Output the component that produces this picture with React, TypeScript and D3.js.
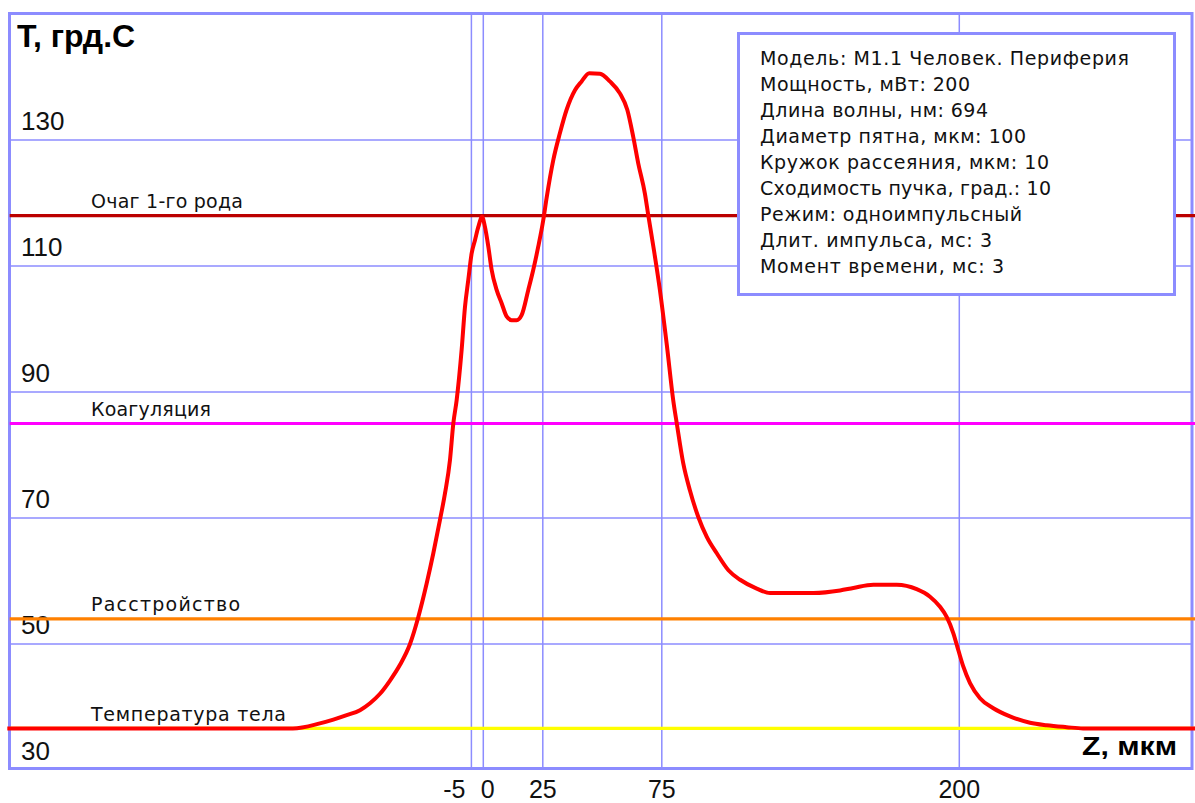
import React from "react";
import * as d3 from "d3";

const W = 1195;
const H = 803;

// Temperature profile along the beam axis: depth Z (мкм) and temperature T (°C)
const depthZ = [
  -200, -80, -68.7, -63.0, -57.4, -51.8, -47.6, -43.4, -39.2, -35.0, -30.8, -27.3,
  -23.8, -21.0, -18.2, -16.1, -14.0, -12.6, -11.2, -9.1, -7.7, -6.3, -4.9, -3.5,
  -2.1, -0.5, 0.7, 2.1, 3.5, 5.6, 7.7, 9.8, 11.9, 14.0, 16.1, 18.9, 21.0, 23.1,
  25.2, 26.6, 29.4, 32.2, 35.0, 38.5, 41.3, 44.5, 49.0, 53.2, 57.4, 60.5, 63.0,
  65.1, 67.9, 69.3, 71.7, 74.2, 77.1, 79.8, 81.3, 84.0, 86.8, 90.3, 93.9, 98.1,
  103.0, 107.9, 114.9, 120.5, 138.7, 149.9, 155.5, 163.9, 173.7, 182.1, 187.7,
  191.9, 194.7, 197.5, 199.6, 201.7, 204.5, 208.7, 214.3, 221.3, 229.7, 236.7,
  245.1, 252, 300,
];
const temperature = [
  36.6, 36.6, 37.4, 38.0, 38.7, 39.5, 40.6, 42.1, 44.2, 46.7, 50.0, 54.3,
  59.6, 64.4, 69.7, 73.9, 79.2, 85.0, 88.7, 96.7, 103.5, 107.8, 112.0, 114.1,
  116.2, 117.8, 116.2, 113.1, 109.4, 106.2, 104.1, 102.0, 101.4, 101.4, 102.2, 106.2, 109.4, 113.1,
  117.3, 120.8, 126.8, 131.1, 134.8, 137.9, 139.3, 140.6, 140.5, 139.3, 137.4, 134.8, 130.5,
  126.3, 121.5, 118.1, 112.5, 106.2, 97.5, 88.7, 85.0, 78.7, 74.4, 70.2, 67.0, 64.4,
  61.7, 60.2, 58.8, 58.1, 58.1, 58.5, 58.9, 59.4, 59.4, 58.7, 57.5,
  55.9, 54.3, 51.7, 49.0, 46.4, 43.8, 41.4, 39.8, 38.5, 37.5, 37.1,
  36.8, 36.6, 36.6,
];

const xTicks = [-5, 0, 25, 75, 200];
const yTicks = [30, 50, 70, 90, 110, 130];

// Damage thresholds
const thresholdNames = ["Очаг 1-го рода", "Коагуляция", "Расстройство", "Температура тела"];
const thresholdValues = [118, 85, 54, 36.6];

const infoLines = [
  "Модель: М1.1 Человек. Периферия",
  "Мощность, мВт: 200",
  "Длина волны, нм: 694",
  "Диаметр пятна, мкм: 100",
  "Кружок рассеяния, мкм: 10",
  "Сходимость пучка, град.: 10",
  "Режим: одноимпульсный",
  "Длит. импульса, мс: 3",
  "Момент времени, мс: 3",
];

// ---- presentation ----
const FONT = "'Liberation Sans', Arial, sans-serif";
const LABEL_FONT = "'DejaVu Sans', Verdana, sans-serif";
const GRID = "#8c8cff";
const thresholdColors = ["#bb0000", "#ff00ff", "#ff8000", "#ffff00"];
const thresholdLabelWidths = [152, 120, 149, 195];
const infoLineWidths = [369, 210, 228, 266, 289, 291, 262, 232, 244];

const frame = { left: 9.5, top: 13.5, right: 1192, bottom: 768.5 };
const box = { left: 738.5, top: 33.5, right: 1174.5, bottom: 294.5 };

export default function App() {
  const x = d3.scaleLinear().domain([-200, 300]).range([7.3, 1197.3]);
  const y = d3.scaleLinear().domain([30, 150]).range([770, 14]);

  const points: [number, number][] = depthZ.map((z, i) => [z, temperature[i]]);
  const line = d3
    .line<[number, number]>()
    .x((d) => x(d[0]))
    .y((d) => y(d[1]))
    .curve(d3.curveMonotoneX);

  return (
    <svg
      width={W}
      height={H}
      viewBox={`0 0 ${W} ${H}`}
      style={{ position: "absolute", left: 0, top: 0, background: "#fff" }}
      fontFamily={FONT}
    >
      <rect x={0} y={0} width={W} height={H} fill="#fff" />

      {/* grid */}
      {yTicks
        .filter((v) => v > 30)
        .map((v) => (
          <line key={"h" + v} x1={frame.left} x2={frame.right} y1={y(v)} y2={y(v)} stroke={GRID} strokeWidth={1.5} />
        ))}
      {xTicks.map((v) => (
        <line key={"v" + v} x1={x(v)} x2={x(v)} y1={frame.top} y2={frame.bottom} stroke={GRID} strokeWidth={1.5} />
      ))}

      {/* frame */}
      <rect
        x={frame.left}
        y={frame.top}
        width={frame.right - frame.left}
        height={frame.bottom - frame.top}
        fill="none"
        stroke={GRID}
        strokeWidth={3}
      />

      {/* y tick labels */}
      {yTicks.map((v) => (
        <text key={"yl" + v} x={21} y={y(v) - 10.5} fontSize={26} fill="#111">
          {v}
        </text>
      ))}

      {/* x tick labels */}
      {xTicks.map((v, i) => {
        const anchor = i === 0 ? "end" : i === 1 ? "start" : "middle";
        const dx = i === 0 ? -6 : i === 1 ? -2.5 : 0;
        return (
          <text key={"xl" + v} x={x(v) + dx} y={798} fontSize={25} textAnchor={anchor} fill="#111">
            {v}
          </text>
        );
      })}

      {/* thresholds */}
      {thresholdValues.map((v, i) => (
        <g key={"t" + i}>
          <line x1={x(-199)} x2={x(300)} y1={y(v)} y2={y(v)} stroke={thresholdColors[i]} strokeWidth={3.2} />
          <text
            x={91}
            y={y(v) - 7.5}
            fontSize={19}
            fontFamily={LABEL_FONT}
            fill="#111"
            textLength={thresholdLabelWidths[i]}
            lengthAdjust="spacing"
          >
            {thresholdNames[i]}
          </text>
        </g>
      ))}

      {/* temperature curve */}
      <path d={line(points) ?? ""} fill="none" stroke="#ff0000" strokeWidth={4} strokeLinejoin="round" />

      {/* axis titles */}
      <text x={17} y={47} fontSize={32} fontWeight="bold" fill="#000">
        T, грд.С
      </text>
      <text x={1082} y={755} fontSize={25} fontWeight="bold" fill="#000" textLength={95} lengthAdjust="spacingAndGlyphs">
        Z, мкм
      </text>

      {/* parameter box */}
      <rect
        x={box.left}
        y={box.top}
        width={box.right - box.left}
        height={box.bottom - box.top}
        fill="#fff"
        stroke={GRID}
        strokeWidth={3}
      />
      {infoLines.map((s, i) => (
        <text
          key={"info" + i}
          x={760}
          y={64.5 + i * 26.1}
          fontSize={19}
          fontFamily={LABEL_FONT}
          fill="#111"
          textLength={infoLineWidths[i]}
          lengthAdjust="spacing"
        >
          {s}
        </text>
      ))}
    </svg>
  );
}
